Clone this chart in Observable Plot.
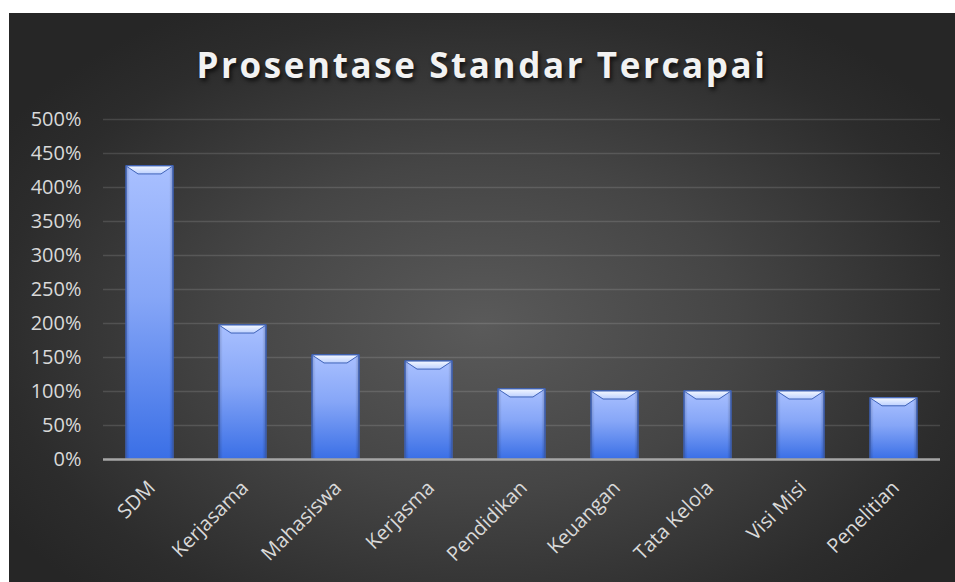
<!DOCTYPE html>
<html>
<head>
<meta charset="utf-8">
<script src="https://cdn.jsdelivr.net/npm/d3@7"></script>
<script src="https://cdn.jsdelivr.net/npm/@observablehq/plot@0.6"></script>
<style>
  html, body { margin: 0; padding: 0; background: #ffffff; width: 955px; height: 582px; overflow: hidden; }
  #frame {
    position: absolute; left: 9px; top: 13px; width: 946px; height: 569px;
    background: radial-gradient(ellipse 60% 65% at 50% 55%, #5a5a5a 0%, #454545 45%, #2c2c2c 85%, #262626 100%);
  }
  #title {
    position: absolute; left: 0; top: 28px; width: 946px; text-align: center;
    font-family: "Open Sans", sans-serif; font-weight: 700; font-size: 35px; letter-spacing: 2.6px;
    line-height: 1.362;
    color: #f2f2f2; text-shadow: 2px 3px 4px rgba(0,0,0,0.7);
  }
  #chart { position: absolute; left: 0; top: 0; }
</style>
</head>
<body>
<div id="frame">
  <div id="title">Prosentase Standar Tercapai</div>
  <div id="chart"></div>
</div>
<script>
const categories = ["SDM", "Kerjasama", "Mahasiswa", "Kerjasma", "Pendidikan", "Keuangan", "Tata Kelola", "Visi Misi", "Penelitian"];
const values = [4.31, 1.97, 1.53, 1.44, 1.03, 1.00, 1.00, 1.00, 0.90];
const yTicks = [0, 0.5, 1, 1.5, 2, 2.5, 3, 3.5, 4, 4.5, 5];

const data = categories.map((c, i) => ({category: c, value: values[i]}));

const defs = () => {
  const d = d3.create("svg:defs");
  const g = d.append("linearGradient").attr("id", "barGrad").attr("x1", 0).attr("y1", 0).attr("x2", 0).attr("y2", 1);
  g.append("stop").attr("offset", "0%").attr("stop-color", "#a9c0ff");
  g.append("stop").attr("offset", "45%").attr("stop-color", "#86a6f7");
  g.append("stop").attr("offset", "100%").attr("stop-color", "#3a6fe6");
  const b = d.append("linearGradient").attr("id", "bevelGrad").attr("x1", 0).attr("y1", 0).attr("x2", 0).attr("y2", 1);
  b.append("stop").attr("offset", "0%").attr("stop-color", "#f4f8ff");
  b.append("stop").attr("offset", "100%").attr("stop-color", "#bcd0ff");
  const s = d.append("linearGradient").attr("id", "sideGrad").attr("x1", 0).attr("y1", 0).attr("x2", 1).attr("y2", 0);
  s.append("stop").attr("offset", "0%").attr("stop-color", "#000").attr("stop-opacity", 0.18);
  s.append("stop").attr("offset", "8%").attr("stop-color", "#000").attr("stop-opacity", 0);
  s.append("stop").attr("offset", "92%").attr("stop-color", "#000").attr("stop-opacity", 0);
  s.append("stop").attr("offset", "100%").attr("stop-color", "#000").attr("stop-opacity", 0.22);
  return d.node();
};

const chart = Plot.plot({
  width: 946,
  height: 569,
  marginTop: 106,
  marginBottom: 123,
  marginLeft: 94,
  marginRight: 15,
  style: { background: "transparent", color: "#d9d9d9", fontFamily: "'Open Sans', sans-serif", fontSize: "17px" },
  x: { domain: categories, paddingInner: 0.5, paddingOuter: 0.25, label: null },
  y: { domain: [0, 5], label: null },
  marks: [
    defs,
    Plot.gridY(yTicks, { stroke: "#ffffff", strokeOpacity: 0.13, strokeWidth: 1.5 }),
    Plot.axisY(yTicks, { tickSize: 0, tickPadding: 22, tickFormat: d => Math.round(d * 100) + "%", fontSize: 20, fill: "#d9d9d9" }),
    Plot.axisX({ tickSize: 0, tickRotate: -45, tickPadding: 25, dx: 2, fontSize: 20, fill: "#d9d9d9" }),
    Plot.barY(data, {
      x: "category", y: "value", fill: "url(#barGrad)", stroke: "#3f63b8", strokeWidth: 1,
      render(index, scales, vals, dims, ctx, next) {
        const g = next(index, scales, vals, dims, ctx);
        const bw = scales.x.bandwidth();
        for (const i of index) {
          const x0 = scales.x(data[i].category);
          const yt = scales.y(data[i].value);
          const yb = scales.y(0);
          const sel = d3.select(g);
          sel.append("rect").attr("x", x0).attr("y", yt).attr("width", bw).attr("height", yb - yt).attr("fill", "url(#sideGrad)");
          sel.append("polygon")
            .attr("points", `${x0},${yt} ${x0 + bw},${yt} ${x0 + bw - 12},${yt + 8} ${x0 + 12},${yt + 8}`)
            .attr("fill", "url(#bevelGrad)");
        }
        return g;
      }
    }),
    Plot.ruleY([0], { stroke: "#a6a6a6", strokeWidth: 2.5 })
  ]
});
document.getElementById("chart").appendChild(chart);
</script>
</body>
</html>
